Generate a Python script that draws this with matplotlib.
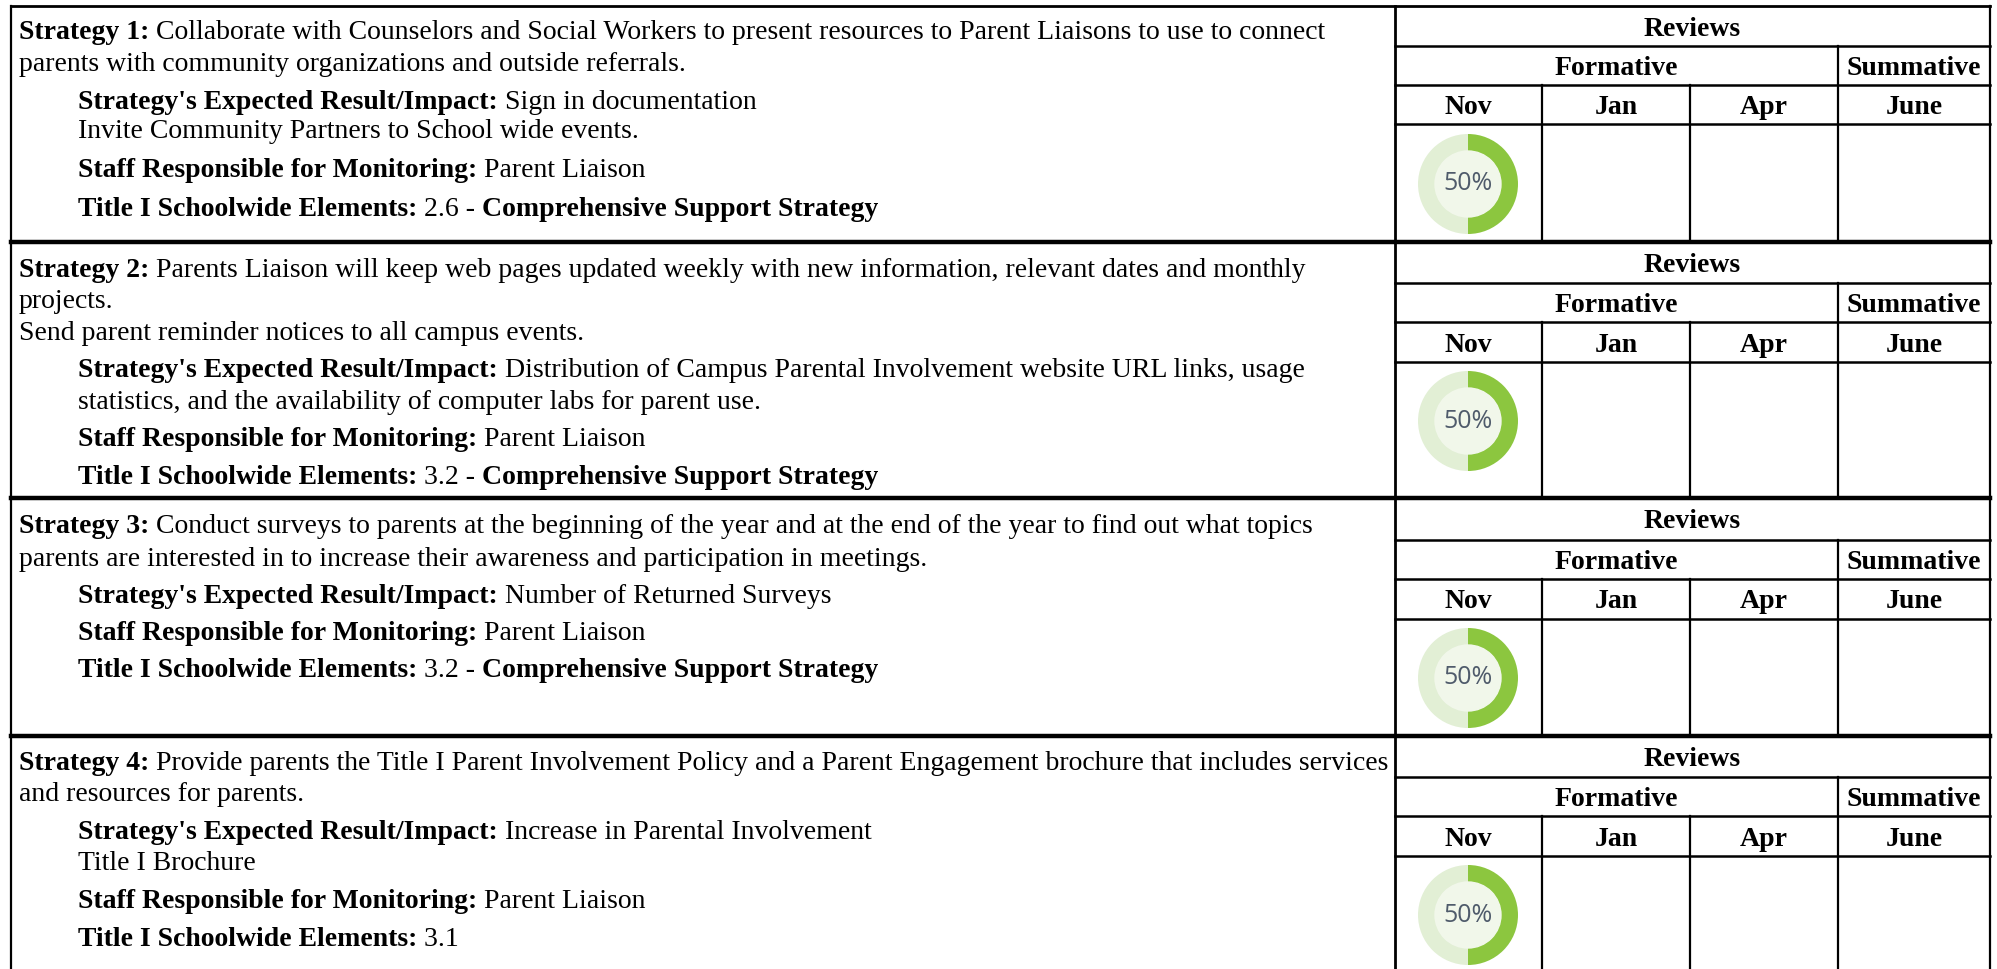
import matplotlib
matplotlib.use('Agg')
import matplotlib.pyplot as plt

W, H = 1997, 969
FONT = 'Liberation Serif'
FS = 20

# each line: (indent, baseline y, [(text, bold), ...])
row1_lines = [
    (0, 39, [('Strategy 1:', True), (' Collaborate with Counselors and Social Workers to present resources to Parent Liaisons to use to connect', False)]),
    (0, 71, [('parents with community organizations and outside referrals.', False)]),
    (1, 109, [("Strategy's Expected Result/Impact:", True), (' Sign in documentation', False)]),
    (1, 138, [('Invite Community Partners to School wide events.', False)]),
    (1, 177, [('Staff Responsible for Monitoring:', True), (' Parent Liaison', False)]),
    (1, 216, [('Title I Schoolwide Elements:', True), (' 2.6 - ', False), ('Comprehensive Support Strategy', True)]),
]
row2_lines = [
    (0, 277, [('Strategy 2:', True), (' Parents Liaison will keep web pages updated weekly with new information, relevant dates and monthly', False)]),
    (0, 308, [('projects.', False)]),
    (0, 340, [('Send parent reminder notices to all campus events.', False)]),
    (1, 377, [("Strategy's Expected Result/Impact:", True), (' Distribution of Campus Parental Involvement website URL links, usage', False)]),
    (1, 409, [('statistics, and the availability of computer labs for parent use.', False)]),
    (1, 446, [('Staff Responsible for Monitoring:', True), (' Parent Liaison', False)]),
    (1, 484, [('Title I Schoolwide Elements:', True), (' 3.2 - ', False), ('Comprehensive Support Strategy', True)]),
]
row3_lines = [
    (0, 533, [('Strategy 3:', True), (' Conduct surveys to parents at the beginning of the year and at the end of the year to find out what topics', False)]),
    (0, 566, [('parents are interested in to increase their awareness and participation in meetings.', False)]),
    (1, 603, [("Strategy's Expected Result/Impact:", True), (' Number of Returned Surveys', False)]),
    (1, 640, [('Staff Responsible for Monitoring:', True), (' Parent Liaison', False)]),
    (1, 677, [('Title I Schoolwide Elements:', True), (' 3.2 - ', False), ('Comprehensive Support Strategy', True)]),
]
row4_lines = [
    (0, 770, [('Strategy 4:', True), (' Provide parents the Title I Parent Involvement Policy and a Parent Engagement brochure that includes services', False)]),
    (0, 801, [('and resources for parents.', False)]),
    (1, 839, [("Strategy's Expected Result/Impact:", True), (' Increase in Parental Involvement', False)]),
    (1, 870, [('Title I Brochure', False)]),
    (1, 908, [('Staff Responsible for Monitoring:', True), (' Parent Liaison', False)]),
    (1, 946, [('Title I Schoolwide Elements:', True), (' 3.1', False)]),
]
all_lines = row1_lines + row2_lines + row3_lines + row4_lines

# horizontal rules of each review table: top, after Reviews, after Formative, after months, bottom
row_tops = [6, 242, 498, 736]
row_line2 = [46, 283, 540, 777]
row_line3 = [85, 322, 579, 816]
row_line4 = [124, 362, 619, 856]
row_bottoms = [242, 498, 736, 969]

col_x = [1395, 1542, 1690, 1838, 1990]
months = ['Nov', 'Jan', 'Apr', 'June']
review_values = [[50, 50], [50, 50], [50, 50], [50, 50]]
review_labels = ['50%', '50%', '50%', '50%']
donut_y = [184, 421, 678, 915]

fig = plt.figure(figsize=(W / 100, H / 100), dpi=100)
ax = fig.add_axes([0, 0, 1, 1])
ax.set_xlim(0, W)
ax.set_ylim(H, 0)
ax.axis('off')
renderer = fig.canvas.get_renderer()


def draw_line(x, y, parts):
    for text, bold in parts:
        t = ax.text(x, y, text, fontsize=FS, family=FONT, color='black',
                    fontweight='bold' if bold else 'normal', va='baseline', ha='left')
        x += t.get_window_extent(renderer).width


for indent, y, parts in all_lines:
    draw_line(78 if indent else 19, y, parts)

right = col_x[4]

# outer left border and rules
ax.plot([11, 11], [6, H], color='black', lw=1.6)
ax.plot([col_x[0], col_x[0]], [6, H], color='black', lw=2)
ax.plot([right, right], [6, H], color='black', lw=1.6)
ax.plot([11, right], [6, 6], color='black', lw=2)
for y in row_bottoms[:-1]:
    ax.plot([11, right], [y, y], color='black', lw=3.2)

for i in range(4):
    top, y2, y3, y4, bot = row_tops[i], row_line2[i], row_line3[i], row_line4[i], row_bottoms[i]
    for y in (y2, y3, y4):
        ax.plot([col_x[0], right], [y, y], color='black', lw=1.8)
    ax.plot([col_x[3], col_x[3]], [y2, bot], color='black', lw=1.6)
    ax.plot([col_x[1], col_x[1]], [y3, bot], color='black', lw=1.6)
    ax.plot([col_x[2], col_x[2]], [y3, bot], color='black', lw=1.6)
    ax.text((col_x[0] + col_x[4]) / 2, (top + y2) / 2 + 3, 'Reviews', fontsize=FS, family=FONT,
            fontweight='bold', ha='center', va='center')
    ax.text((col_x[0] + col_x[3]) / 2, (y2 + y3) / 2 + 3, 'Formative', fontsize=FS, family=FONT,
            fontweight='bold', ha='center', va='center')
    ax.text((col_x[3] + col_x[4]) / 2, (y2 + y3) / 2 + 3, 'Summative', fontsize=FS, family=FONT,
            fontweight='bold', ha='center', va='center')
    for j, m in enumerate(months):
        ax.text((col_x[j] + col_x[j + 1]) / 2, (y3 + y4) / 2 + 3, m, fontsize=FS, family=FONT,
                fontweight='bold', ha='center', va='center')

    # donut goes in its own small axes
    cx, cy, r = 1468, donut_y[i], 50
    dax = fig.add_axes([(cx - r) / W, 1 - (cy + r) / H, 2 * r / W, 2 * r / H])
    dax.pie(review_values[i], colors=['#8CC63F', '#E2EFD5'], startangle=90, counterclock=False,
            radius=1, wedgeprops={'width': 0.34})
    dax.add_patch(plt.Circle((0, 0), 0.66, color='#F1F7EA'))
    dax.text(0, 0, review_labels[i], fontsize=18, family='Open Sans', color='#4F5B6B',
             ha='center', va='center')
    dax.set_xlim(-1, 1)
    dax.set_ylim(-1, 1)

fig.savefig('out.png', dpi=100)
